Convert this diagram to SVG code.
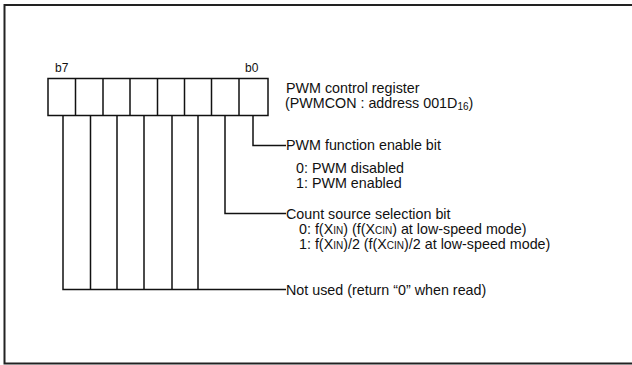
<svg xmlns="http://www.w3.org/2000/svg" width="632" height="365" viewBox="0 0 632 365">
<style>
.frame{fill:none;stroke:#222;stroke-width:2}
.reg{fill:#fff;stroke:#111;stroke-width:1.5}
.conn{fill:none;stroke:#111;stroke-width:1.5}
.t{font-family:"Liberation Sans",Arial,sans-serif;font-size:14.3px;fill:#111}
.b{font-size:12px}
.s{font-size:10px}
</style>
<rect width="632" height="365" fill="#fff"/>
<path class="frame" d="M640 5 H4.5 V363.5 H640"/>
<g id="register">
<rect class="reg" x="48" y="78.5" width="220" height="37"/>
<path class="reg" d="M75.5 78.5V115.5M103 78.5V115.5M130 78.5V115.5M157.5 78.5V115.5M184.5 78.5V115.5M211.5 78.5V115.5M239 78.5V115.5"/>
</g>
<g id="connectors">
<path class="conn" d="M253 115.5V145.5H286"/>
<path class="conn" d="M225 115.5V213.5H286"/>
<path class="conn" d="M63 115.5V289.5H286M90.5 115.5V289.5M117 115.5V289.5M144 115.5V289.5M172 115.5V289.5M198 115.5V289.5"/>
</g>
<g id="bit-labels">
<text class="t b" x="55" y="72">b7</text>
<text class="t b" x="245" y="72">b0</text>
</g>
<g id="title">
<text class="t" x="286" y="93">PWM control register</text>
<text class="t" x="285" y="108">(PWMCON : address 001D<tspan class="s" dy="1.5">16</tspan><tspan dy="-1.5">)</tspan></text>
</g>
<g id="bit0">
<text class="t" x="286" y="150">PWM function enable bit</text>
<text class="t" x="296" y="173">0: PWM disabled</text>
<text class="t" x="296" y="188">1: PWM enabled</text>
</g>
<g id="bit1">
<text class="t" x="286" y="219">Count source selection bit</text>
<text class="t" x="299" y="234">0: f(X<tspan class="s">IN</tspan>) (f(X<tspan class="s">CIN</tspan>) at low-speed mode)</text>
<text class="t" x="299" y="249">1: f(X<tspan class="s">IN</tspan>)/2 (f(X<tspan class="s">CIN</tspan>)/2 at low-speed mode)</text>
</g>
<g id="bits7-2">
<text class="t" x="286" y="295">Not used (return “0” when read)</text>
</g>
</svg>
